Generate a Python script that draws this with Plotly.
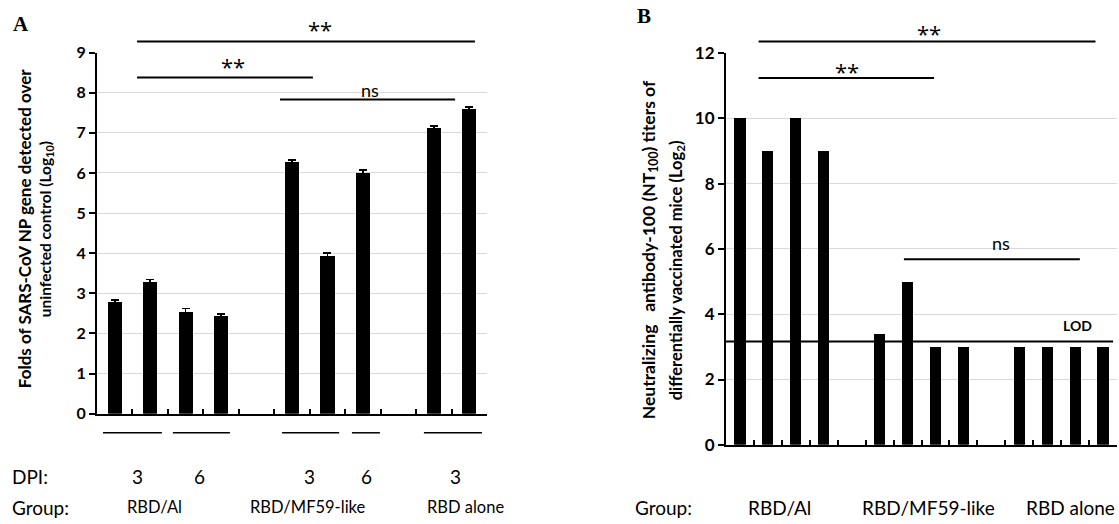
import plotly.graph_objects as go

W, H = 1119, 524

# ---------------- Panel A data ----------------
a_slots = list(range(11))
a_values = [2.8, 3.3, 2.55, 2.45, None, 6.28, 3.93, 6.0, None, 7.13, 7.6]
a_errors = [0.03, 0.05, 0.07, 0.03, 0, 0.04, 0.07, 0.08, 0, 0.04, 0.05]
a_yticks = [0, 1, 2, 3, 4, 5, 6, 7, 8, 9]
a_sig = [  # x0, x1, y, label, label_x, label_y
    (0.63, 10.16, 9.28, "**", 5.79, 9.58),
    (0.63, 5.59, 8.38, "**", 3.34, 8.66),
    (4.66, 9.60, 7.83, "ns", 7.20, 8.08),
]
a_group_spans = [(-0.33, 1.33), (1.64, 3.25), (4.72, 6.33), (6.69, 7.48), (8.72, 10.36)]
a_dpi = ["3", "6", "3", "6", "3"]
a_dpi_x = [0.63, 2.40, 5.50, 7.10, 9.60]
a_groups = ["RBD/Al", "RBD/MF59-like", "RBD alone"]
a_group_x = [154, 308, 425]
a_group_anchor = ["center", "center", "left"]

# ---------------- Panel B data ----------------
b_slots = list(range(14))
b_values = [10, 9, 10, 9, None, 3.4, 5, 3, 3, None, 3, 3, 3, 3]
b_yticks = [0, 2, 4, 6, 8, 10, 12]
b_lod = 3.16
b_sig = [
    (0.667, 12.73, 12.35, "**", 6.77, 12.6),
    (0.667, 6.95, 11.23, "**", 3.83, 11.45),
    (5.87, 12.17, 5.68, "ns", 9.35, 6.17),
]
b_groups = ["RBD/Al", "RBD/MF59-like", "RBD alone"]
b_group_x = [779, 928, 1024]
b_group_anchor = ["center", "center", "left"]

# ---------------- geometry (target pixels) ----------------
A_X = (97, 487)
A_Y = (413, 53)     # pixel of y=0 and y=9
B_X = (726, 1117)
B_Y = (444, 53.3)   # pixel of y=0 and y=12
A_XR = (-0.5, 10.5)
A_YR = (0, 9)
B_XR = (-0.5, 13.5)
B_YR = (0, 12)

# vertical compensation observed for the capture
VY0, VYS = 11.5, 0.957

def px2paper_x(p):
    return p / W

def px2paper_y(p):
    q = (p - VY0) / VYS
    return (H - q) / H

def dx(x, XR, XP):
    return px2paper_x(XP[0] + (x - XR[0]) / (XR[1] - XR[0]) * (XP[1] - XP[0]))

def dy(y, YR, YP):
    return px2paper_y(YP[0] + (y - YR[0]) / (YR[1] - YR[0]) * (YP[1] - YP[0]))

SANS = "Lato"
fig = go.Figure()

fig.add_trace(go.Bar(
    x=a_slots, y=a_values, width=0.4, marker=dict(color="black", line=dict(width=0)),
    error_y=dict(type="data", array=a_errors, color="black", thickness=1.6, width=4),
    xaxis="x", yaxis="y", showlegend=False,
))
fig.add_trace(go.Bar(
    x=b_slots, y=b_values, width=0.4, marker=dict(color="black", line=dict(width=0)),
    xaxis="x2", yaxis="y2", showlegend=False,
))

axis_common = dict(showline=True, linecolor="black", linewidth=2, zeroline=False, fixedrange=True)
fig.update_layout(
    width=W, height=H, margin=dict(l=0, r=0, t=0, b=0),
    paper_bgcolor="white", plot_bgcolor="white", bargap=0,
    xaxis=dict(domain=[px2paper_x(A_X[0]), px2paper_x(A_X[1])], range=list(A_XR),
               tickvals=[i - 0.5 for i in range(12)], showticklabels=False,
               ticks="inside", ticklen=5, tickwidth=2, tickcolor="black",
               showgrid=False, anchor="y", **axis_common),
    yaxis=dict(domain=[px2paper_y(A_Y[0]), px2paper_y(A_Y[1])], range=list(A_YR),
               tickvals=a_yticks, ticks="outside", ticklen=6, tickwidth=2, tickcolor="black",
               showgrid=True, gridcolor="#d9d9d9", gridwidth=1, anchor="x",
               tickfont=dict(family=SANS, size=16, color="black", weight="bold"), **axis_common),
    xaxis2=dict(domain=[px2paper_x(B_X[0]), px2paper_x(B_X[1])], range=list(B_XR),
                tickvals=[i - 0.5 for i in range(15)], showticklabels=False,
                ticks="inside", ticklen=5, tickwidth=2, tickcolor="black",
                showgrid=False, anchor="y2", **axis_common),
    yaxis2=dict(domain=[px2paper_y(B_Y[0]), px2paper_y(B_Y[1])], range=list(B_YR),
                tickvals=b_yticks, ticks="outside", ticklen=6, tickwidth=2, tickcolor="black",
                showgrid=True, gridcolor="#d9d9d9", gridwidth=1, anchor="x2",
                tickfont=dict(family=SANS, size=17, color="black", weight="bold"), **axis_common),
)

shapes = []
ann = []

def line(x0, y0, x1, y1, w=2):
    shapes.append(dict(type="line", xref="paper", yref="paper", x0=x0, y0=y0, x1=x1, y1=y1,
                       line=dict(color="black", width=w)))

def text(t, x, y, size, xanchor="center", yanchor="middle", bold=False, family=SANS, angle=0):
    ann.append(dict(text=t, x=x, y=y, xref="paper", yref="paper", showarrow=False,
                    xanchor=xanchor, yanchor=yanchor, textangle=angle,
                    font=dict(family=family, size=size, color="black",
                              weight="bold" if bold else "normal")))

STAR_FONT = "Open Sans"

# significance brackets
for x0, x1, y, lab, lx, ly in a_sig:
    line(dx(x0, A_XR, A_X), dy(y, A_YR, A_Y), dx(x1, A_XR, A_X), dy(y, A_YR, A_Y))
    if lab == "**":
        text(lab, dx(lx, A_XR, A_X), dy(ly, A_YR, A_Y), 22, family=STAR_FONT)
    else:
        text(lab, dx(lx, A_XR, A_X), dy(ly, A_YR, A_Y), 18)
for x0, x1, y, lab, lx, ly in b_sig:
    line(dx(x0, B_XR, B_X), dy(y, B_YR, B_Y), dx(x1, B_XR, B_X), dy(y, B_YR, B_Y))
    if lab == "**":
        text(lab, dx(lx, B_XR, B_X), dy(ly, B_YR, B_Y), 22, family=STAR_FONT)
    else:
        text(lab, dx(lx, B_XR, B_X), dy(ly, B_YR, B_Y), 18)

# LOD line
line(dx(-0.5, B_XR, B_X), dy(b_lod, B_YR, B_Y), dx(13.36, B_XR, B_X), dy(b_lod, B_YR, B_Y))
text("LOD", dx(12.1, B_XR, B_X), dy(b_lod + 0.5, B_YR, B_Y), 14, bold=True)

# group lines under panel A
for x0, x1 in a_group_spans:
    line(dx(x0, A_XR, A_X), px2paper_y(432), dx(x1, A_XR, A_X), px2paper_y(432), w=1.5)

# DPI and group rows, panel A
text("DPI:", px2paper_x(10), px2paper_y(476), 19, xanchor="left")
for lab, x in zip(a_dpi, a_dpi_x):
    text(lab, dx(x, A_XR, A_X), px2paper_y(476), 19)
text("Group:", px2paper_x(10), px2paper_y(506), 19, xanchor="left")
for lab, x, anc in zip(a_groups, a_group_x, a_group_anchor):
    text(lab, px2paper_x(x), px2paper_y(506), 16.5, xanchor=anc)

# group row, panel B
text("Group:", px2paper_x(633), px2paper_y(506), 19, xanchor="left")
for lab, x, anc in zip(b_groups, b_group_x, b_group_anchor):
    text(lab, px2paper_x(x), px2paper_y(506), 19, xanchor=anc)

# y-axis titles
text("Folds of SARS-CoV NP gene detected over", px2paper_x(24), px2paper_y(229), 17, bold=True, angle=-90)
text("uninfected control (Log<sub>10</sub>)", px2paper_x(46), px2paper_y(229), 15.5, bold=True, angle=-90)
text("Neutralizing&nbsp;&nbsp; antibody-100 (NT<sub>100</sub>) titers of", px2paper_x(650), px2paper_y(250), 17.5, bold=True, angle=-90)
text("differentially vaccinated mice (Log<sub>2</sub>)", px2paper_x(676), px2paper_y(270), 16.5, bold=True, angle=-90)

# panel letters
text("A", px2paper_x(21), px2paper_y(24), 21, bold=True, family="Liberation Serif")
text("B", px2paper_x(644), px2paper_y(16), 21, bold=True, family="Liberation Serif")

fig.update_layout(shapes=shapes, annotations=ann)
fig.write_html("out.html", config={"displayModeBar": False},
               post_script="document.body.style.margin='0';")
